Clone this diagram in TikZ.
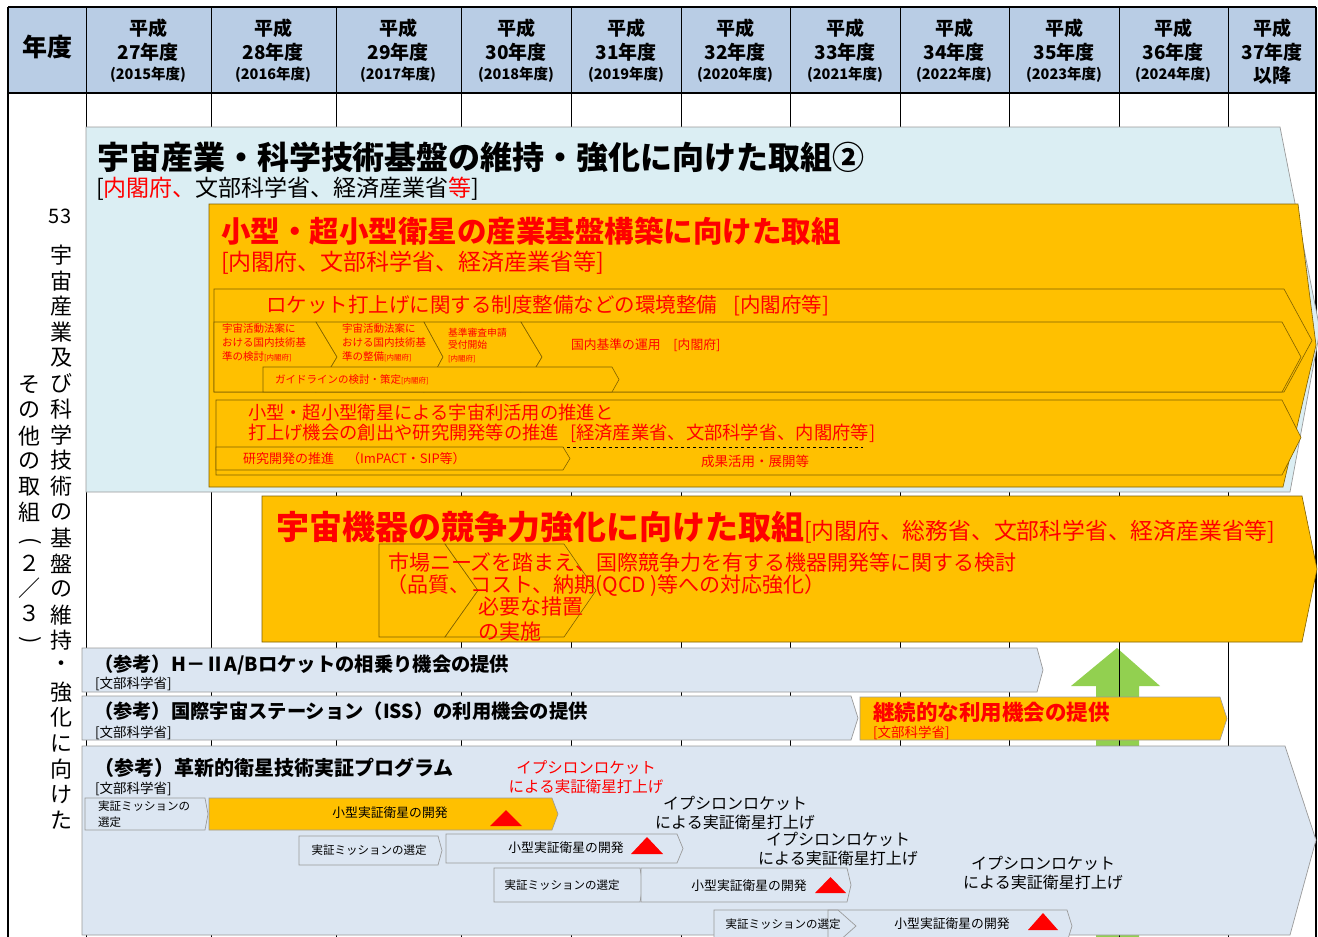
\documentclass[tikz,border=0pt]{standalone}
\usepackage{fontspec}
\setmainfont{Noto Sans CJK JP}
\definecolor{hdrblue}{HTML}{B9CDE5}
\definecolor{paleblue}{HTML}{DBEEF3}
\definecolor{rowblue}{HTML}{DCE6F2}
\definecolor{gold}{HTML}{FFC000}
\definecolor{goldline}{HTML}{7F6000}
\definecolor{boxline}{HTML}{9A9A9A}
\definecolor{jred}{HTML}{FF0000}
\definecolor{agreen}{HTML}{92D050}
\newcommand\fs[1]{\fontsize{#1}{#1}\selectfont}
\newcommand\fsl[2]{\fontsize{#1}{#2}\selectfont}
% pentagon arrow: style, x1, ytop, x2, ybot, xtip
\newcommand\penta[6]{\path[#1] (#2,#3) -- (#4,#3) -- (#6,{(#3+#5)/2}) -- (#4,#5) -- (#2,#5) -- cycle;}
% chevron: style, x1, ytop, x2, ybot, xtip, xnotch
\newcommand\chev[7]{\path[#1] (#2,#3) -- (#4,#3) -- (#6,{(#3+#5)/2}) -- (#4,#5) -- (#2,#5) -- (#7,{(#3+#5)/2}) -- cycle;}
\begin{document}
\begin{tikzpicture}[x=1pt,y=-1pt,
  tx/.style={inner sep=0pt,outer sep=0pt},
  lt/.style={tx,anchor=west},
  rt/.style={text=jred},
  goldbox/.style={fill=gold,draw=goldline,line width=0.6pt},
  bluebox/.style={fill=rowblue,draw=boxline,line width=0.7pt},
  colline/.style={draw=black,line width=1pt},
  frameline/.style={draw=black,line width=1.6pt},
  tri/.style={fill=jred},
]
\path[use as bounding box] (0,0) rectangle (1318,937);
\clip (0,0) rectangle (1318,937);
\fill[white] (0,0) rectangle (1318,937);
\fill[hdrblue] (8,7) rectangle (1316,93);
% green arrow
\fill[agreen] (1096,945) -- (1096,686) -- (1071,686) -- (1117,648) -- (1160,686) -- (1139,686) -- (1139,945) -- cycle;
% grid
\foreach \x in {86,211,336,461,571,681,790,900,1009,1119,1228} \draw[colline] (\x,7) -- (\x,940);
\draw[frameline] (8,7) -- (1316,7) (8,7) -- (8,945) (1316,7) -- (1316,945) (8,93) -- (1316,93);

% header texts
\node[tx,font=\bfseries\fs{25}] (hyear) at (47,47) {年度};
\foreach \cx/\ya/\yb [count=\i] in {148/27/2015,273/28/2016,398/29/2017,516/30/2018,626/31/2019,735/32/2020,845/33/2021,954/34/2022,1064/35/2023,1173/36/2024}{
  \node[tx,font=\bfseries\fs{19}] (hA\i) at (\cx,28) {平成};
  \node[tx,font=\bfseries\fs{19}] (hB\i) at (\cx,52) {\ya 年度};
  \node[tx,font=\bfseries\fs{14.5}] (hC\i) at (\cx,75) {(\yb 年度)};
}
\node[tx,font=\bfseries\fs{19}] (hA11) at (1272,28) {平成};
\node[tx,font=\bfseries\fs{19}] (hB11) at (1272,52) {37年度};
\node[tx,font=\bfseries\fs{19}] (hC11) at (1272,75) {以降};

% left column
\node[tx,font=\fs{20}] (num) at (60,216) {53};
\foreach \c [count=\i from 0] in {宇,宙,産,業,及,び,科,学,技,術,の,基,盤,の,維,持,・,強,化,に,向,け,た}
  \node[tx,font=\fs{22}] (va\i) at (61,{255+\i*25.7}) {\c};
\foreach \c [count=\i from 0] in {そ,の,他,の,取,組}
  \node[tx,font=\fs{22}] (vb\i) at (30,{385+\i*25.4}) {\c};
\node[tx,font=\fs{22},rotate=-90] (vb6) at (30,541) {(};
\foreach \c [count=\i from 7] in {２,／,３}
  \node[tx,font=\fs{22}] (vb\i) at (30,{385+\i*25.4}) {\c};
\node[tx,font=\fs{22},rotate=-90] (vb10) at (30,640) {)};

% big light blue
\path[fill=paleblue,draw=boxline,line width=0.7pt] (86,127) -- (1280,127) -- (1320,330) -- (1290,492) -- (86,492) -- cycle;
\node[lt,font=\bfseries\fs{32}] (t1) at (97,157) {宇宙産業・科学技術基盤の維持・強化に向けた取組②};
\node[lt,font=\fs{23}] (t1s) at (96,189) {[\textcolor{jred}{内閣府、}文部科学省、経済産業省\textcolor{jred}{等}]};

% big yellow
\path[goldbox] (209,204) -- (1298,204) -- (1316,345) -- (1283,487) -- (209,487) -- cycle;
\node[lt,rt,font=\bfseries\fs{29.5}] (t2) at (221,231) {小型・超小型衛星の産業基盤構築に向けた取組};
\node[lt,rt,font=\fs{23}] (t2s) at (221,263) {[内閣府、文部科学省、経済産業省等]};

% box 1
\penta{goldbox}{214}{289}{1284}{392}{1312}
\node[lt,rt,font=\fs{20.5}] (b1t) at (266,306) {ロケット打上げに関する制度整備などの環境整備\hspace{0.8em}[内閣府等]};
\penta{goldbox}{214}{322}{316}{392}{337}
\chev{goldbox}{316}{322}{424}{392}{443}{337}
\chev{goldbox}{424}{322}{521}{392}{542}{443}
\chev{goldbox}{521}{322}{1282}{392}{1301}{542}
\penta{goldbox}{263}{367}{612}{392}{619}
\node[lt,rt,align=left,font=\fsl{10.5}{14}] (c1t) at (222,343) {宇宙活動法案に\\おける国内技術基\\準の検討{\fs{7.5}[内閣府]}};
\node[lt,rt,align=left,font=\fsl{10.5}{14}] (c2t) at (342,343) {宇宙活動法案に\\おける国内技術基\\準の整備{\fs{7.5}[内閣府]}};
\node[lt,rt,align=left,font=\fsl{9.8}{12.5}] (c3t) at (448,345) {基準審査申請\\受付開始\\{\fs{7.5}[内閣府]}};
\node[lt,rt,font=\fs{12.8}] (c4t) at (571,345) {国内基準の運用\hspace{1em}[内閣府]};
\node[lt,rt,font=\fs{10.5}] (gdt) at (275,380) {ガイドラインの検討・策定{\fs{7.5}[内閣府]}};

% box 2
\penta{goldbox}{216}{400}{1282}{475}{1301}
\node[lt,rt,align=left,font=\fsl{18.3}{20}] (b2t) at (248,423) {小型・超小型衛星による宇宙利活用の推進と\\打上げ機会の創出や研究開発等の推進\hspace{0.6em}[経済産業省、文部科学省、内閣府等]};
\draw[dashed,line width=0.7pt] (543,447) -- (863,447);
\penta{goldbox}{216}{447}{563}{470}{570}
\node[lt,rt,font=\fs{13}] (rdt) at (243,459) {研究開発の推進　（ImPACT・SIP等）};
\node[tx,rt,font=\fs{13.5}] (sct) at (755,461) {成果活用・展開等};

% space equipment box
\penta{goldbox}{262}{496}{1302}{642}{1317}
\penta{goldbox}{379}{544}{445}{637}{478}
\chev{goldbox}{445}{544}{564}{637}{596}{478}
\node[lt,rt] (t3) at (276,527) {{\bfseries\fs{33}宇宙機器の競争力強化に向けた取組}{\fs{22.8}[内閣府、総務省、文部科学省、経済産業省等]}};
\node[lt,rt,font=\fs{21}] (t3a) at (388,562) {市場ニーズを踏まえ、国際競争力を有する機器開発等に関する検討};
\node[lt,rt,font=\fs{21}] (t3b) at (386,586) {（品質、コスト、納期(QCD )等への対応強化）};
\node[lt,rt,align=left,font=\fsl{21}{25}] (t3c) at (478,619) {必要な措置\\の実施};

% H-IIA row
\penta{bluebox}{82}{648}{1037}{692}{1043}
\node[lt,font=\bfseries\fs{19.3}] (r1t) at (94,665) {（参考）H－ⅡA/Bロケットの相乗り機会の提供};
\node[lt,font=\fs{13.5}] (r1s) at (95,684) {[文部科学省]};

% ISS row
\penta{bluebox}{82}{696}{851}{740}{858}
\node[lt,font=\bfseries\fs{19.3}] (r2t) at (94,711) {（参考）国際宇宙ステーション（ISS）の利用機会の提供};
\node[lt,font=\fs{13.5}] (r2s) at (95,733) {[文部科学省]};
\penta{fill=gold,draw=boxline,line width=0.6pt}{860}{697}{1220}{740}{1227}
\node[lt,rt,font=\bfseries\fs{21.5}] (r2y) at (873,712) {継続的な利用機会の提供};
\node[lt,rt,font=\fs{13.5}] (r2ys) at (873,733) {[文部科学省]};

% innovative satellite row
\path[bluebox] (82,746) -- (1285,746) -- (1316,840) -- (1290,935) -- (82,935) -- cycle;
\node[lt,font=\bfseries\fs{20}] (r3t) at (94,768) {（参考）革新的衛星技術実証プログラム};
\node[lt,font=\fs{13.5}] (r3s) at (95,789) {[文部科学省]};
\node[tx,rt,align=center,font=\fsl{15.5}{19}] (eps0) at (586,777.5) {イプシロンロケット\\による実証衛星打上げ};
\node[tx,align=center,font=\fsl{16}{19}] (eps1) at (735,812.5) {イプシロンロケット\\による実証衛星打上げ};
\node[tx,align=center,font=\fsl{16}{19}] (eps2) at (838,848.5) {イプシロンロケット\\による実証衛星打上げ};
\node[tx,align=center,font=\fsl{16}{19}] (eps3) at (1043,872.5) {イプシロンロケット\\による実証衛星打上げ};

\penta{bluebox}{85}{798}{205}{830}{208}
\node[lt,align=left,font=\fsl{11.5}{16}] (s1at) at (98,814) {実証ミッションの\\選定};
\penta{fill=gold,draw=boxline,line width=0.6pt}{209}{798}{552}{830}{558}
\node[tx,font=\fs{12.8}] (s1bt) at (390,813) {小型実証衛星の開発};
\fill[tri] (490,826) -- (522,826) -- (506,810) -- cycle;

\penta{bluebox}{299}{836}{438}{865}{442}
\node[tx,font=\fs{11.5}] (s2at) at (369,850) {実証ミッションの選定};
\penta{bluebox}{446}{834}{677}{863}{683}
\node[tx,font=\fs{12.8}] (s2bt) at (566,848) {小型実証衛星の開発};
\fill[tri] (631,854) -- (663,854) -- (647,837) -- cycle;

\penta{bluebox}{494}{868}{640}{902}{643}
\node[tx,font=\fs{11.5}] (s3at) at (562,885) {実証ミッションの選定};
\penta{bluebox}{641}{868}{847}{902}{851}
\node[tx,font=\fs{12.8}] (s3bt) at (749,886) {小型実証衛星の開発};
\fill[tri] (815,893) -- (846,893) -- (830.5,877) -- cycle;

\penta{fill=rowblue}{714}{910}{838}{942}{856}
\penta{fill=rowblue}{828}{910}{1067}{942}{1072}
\penta{draw=boxline,line width=0.7pt}{714}{910}{838}{942}{856}
\penta{draw=boxline,line width=0.7pt}{828}{910}{1067}{942}{1072}
\node[tx,font=\fs{11.5}] (s4at) at (783,924) {実証ミッションの選定};
\node[tx,font=\fs{12.8}] (s4bt) at (952,924) {小型実証衛星の開発};
\fill[tri] (1028,930) -- (1058,930) -- (1043,913) -- cycle;
\end{tikzpicture}
\end{document}
